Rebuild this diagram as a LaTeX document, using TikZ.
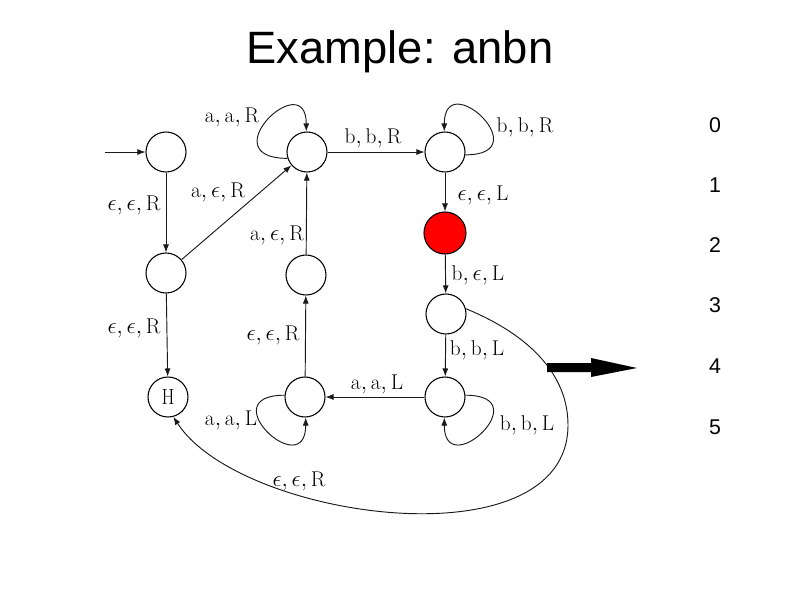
\documentclass[tikz,border=0pt]{standalone}
\usepackage{fontspec}
\newfontfamily\arialf{Liberation Sans}
\usetikzlibrary{arrows.meta}
\begin{document}
\begin{tikzpicture}[x=0.75pt,y=-0.75pt,
  st/.style={circle,draw=black,line width=0.8pt,minimum size=30pt,inner sep=0pt,font=\fontsize{16.5}{18}\selectfont},
  tr/.style={draw=black!90,-{Latex[length=6pt,width=4.5pt]},line width=0.7pt},
  lab/.style={font=\fontsize{16}{18}\selectfont,inner sep=0pt},
  num/.style={font=\arialf\fontsize{16}{19}\selectfont,inner sep=0pt}]
\useasboundingbox (0,0) rectangle (800,600);
% title
\node[font=\arialf\fontsize{34}{40}\selectfont,inner sep=0pt] (title) at (400,52) {Example: anbn};
% states
\node[st] (s0) at (166,152) {};
\node[st] (s1) at (166,273) {};
\node[st] (h) at (168,397) {\scalebox{0.85}[1]{H}};
\node[st] (qa) at (307,152) {};
\node[st] (mid) at (306,275) {};
\node[st] (qbm) at (305,397) {};
\node[st] (qbr) at (445,152) {};
\node[st,fill=red,minimum size=31.5pt] (red) at (445,233) {};
\node[st] (r3) at (446,314) {};
\node[st] (rb) at (445,397) {};
% initial
\coordinate (start) at (105,152);
\draw[tr] (start) -- (s0);
% transitions
\draw[tr] (s0) -- (s1);
\draw[tr] (s1) -- (h);
\draw[tr] (s1) -- (qa);
\draw[tr] (mid) -- (qa);
\draw[tr] (qbm) -- (mid);
\draw[tr] (qa) -- (qbr);
\draw[tr] (qbr) -- (red);
\draw[tr] (red) -- (r3);
\draw[tr] (r3) -- (rb);
\draw[tr] (rb) -- (qbm);
% loops
\draw[tr] (qa.198) .. controls +(-78,0) and +(0,-66) .. (qa.92);
\draw[tr] (qbr.-8) .. controls +(74,0) and +(0,-66) .. (qbr.92);
\draw[tr] (rb.5) .. controls +(74,0) and +(0,66) .. (rb.268);
\draw[tr] (qbm.175) .. controls +(-74,0) and +(0,66) .. (qbm.272);
% long return
\coordinate (via) at (568,425);
\draw[tr] (r3.15) .. controls (530,335) and (568,375) .. (via)
  .. controls (568,565) and (240,520) .. (h.-75);
% labels
\node[lab] (l1) at (134,205) {$\epsilon,\epsilon,\mathrm{R}$};
\node[lab] (l2) at (218,192) {$\mathrm{a},\epsilon,\mathrm{R}$};
\node[lab] (l3) at (232,117) {$\mathrm{a,a,R}$};
\node[lab] (l4) at (277,235) {$\mathrm{a},\epsilon,\mathrm{R}$};
\node[lab] (l5) at (373,138) {$\mathrm{b,b,R}$};
\node[lab] (l6) at (525,127) {$\mathrm{b,b,R}$};
\node[lab] (l7) at (483,195) {$\epsilon,\epsilon,\mathrm{L}$};
\node[lab] (l8) at (478,275) {$\mathrm{b},\epsilon,\mathrm{L}$};
\node[lab] (l9) at (477,350) {$\mathrm{b,b,L}$};
\node[lab] (l10) at (527,425) {$\mathrm{b,b,L}$};
\node[lab] (l11) at (377,384) {$\mathrm{a,a,L}$};
\node[lab] (l12) at (273,335) {$\epsilon,\epsilon,\mathrm{R}$};
\node[lab] (l13) at (231,420) {$\mathrm{a,a,L}$};
\node[lab] (l14) at (134,328) {$\epsilon,\epsilon,\mathrm{R}$};
\node[lab] (l15) at (299,481) {$\epsilon,\epsilon,\mathrm{R}$};
% big arrow
\fill[black] (547,363) -- (591,363) -- (591,358) -- (637,368) -- (591,377) -- (591,372) -- (547,372) -- cycle;
% numbers
\node[num] (n0) at (715,125) {0};
\node[num] (n1) at (715,185) {1};
\node[num] (n2) at (715,245) {2};
\node[num] (n3) at (715,305) {3};
\node[num] (n4) at (715,366) {4};
\node[num] (n5) at (715,427) {5};
\end{tikzpicture}
\end{document}
